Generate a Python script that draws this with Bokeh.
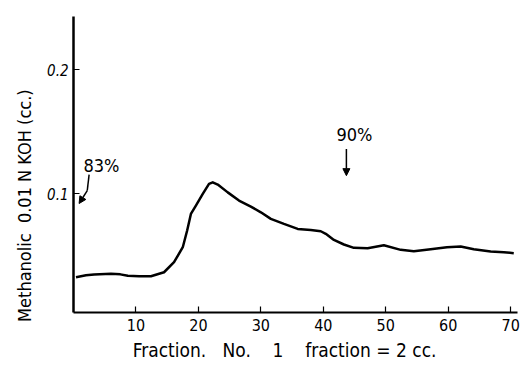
from bokeh.plotting import figure
from bokeh.models import Range1d, FixedTicker, Arrow, NormalHead, Label, ColumnDataSource
from bokeh.embed import file_html
from bokeh.resources import INLINE

fraction = [0.4, 2.0, 3.3, 6.0, 7.5, 8.7, 10.5, 12.4, 14.5, 16.1, 17.5, 18.2, 18.8, 19.6,
            20.7, 21.7, 22.3, 23.1, 24.7, 26.5, 28.4, 30.0, 31.6, 33.7, 35.9, 38.0, 39.6,
            40.4, 41.7, 43.3, 44.9, 47.1, 49.7, 52.4, 54.5, 57.2, 59.8, 62.0, 64.1, 66.8,
            68.9, 70.5]
koh = [0.0325, 0.0340, 0.0347, 0.0352, 0.0348, 0.0336, 0.0332, 0.0333, 0.0365, 0.0446,
       0.0567, 0.0702, 0.0836, 0.0903, 0.0998, 0.1078, 0.1091, 0.1073, 0.1010, 0.0944,
       0.0895, 0.0849, 0.0796, 0.0755, 0.0715, 0.0707, 0.0696, 0.0675, 0.0626, 0.0589,
       0.0562, 0.0559, 0.0583, 0.0546, 0.0535, 0.0551, 0.0567, 0.0573, 0.0551, 0.0532,
       0.0527, 0.0519]
x_ticks = [10, 20, 30, 40, 50, 60, 70]
y_ticks = [0.1, 0.2]
y_tick_labels = {0.1: "0.1", 0.2: "0.2"}

NB = "\u00a0"
x_title = ("Fraction." + NB * 3 + "No." + NB * 4 + "1" + NB * 4 + "fraction" + NB + "=" + NB
           + "2" + NB + "cc.")
y_title = "Methanolic" + NB * 2 + "0.01" + NB + "N" + NB + "KOH" + NB + "(cc.)"
x_title_pad = NB * 4
y_title_pad = NB * 16

ann83_text = "83%"
ann83_pos = (1.6, 0.1145)
ann83_stem_x = [2.5, 2.2]
ann83_stem_y = [0.1153, 0.1024]
ann83_tip = (0.9, 0.092)

ann90_text = "90%"
ann90_pos = (45.0, 0.1476)
ann90_arrow_x = 43.7
ann90_arrow_y = (0.136, 0.1145)

FONT = "'DejaVu Sans Condensed', 'Liberation Sans Narrow', 'DejaVu Sans', sans-serif"

p = figure(width=520, height=365, output_backend="svg", toolbar_location=None,
           x_range=Range1d(0, 71.1), y_range=Range1d(0.004, 0.243),
           min_border_left=73, min_border_right=3, min_border_top=16, min_border_bottom=53)
p.background_fill_color = "white"
p.border_fill_color = "white"
p.outline_line_color = None
p.xgrid.visible = False
p.ygrid.visible = False

src = ColumnDataSource(dict(x=fraction, y=koh))
p.line("x", "y", source=src, line_color="black", line_width=2.5, line_join="round")

# 83% annotation
p.line(ann83_stem_x, ann83_stem_y, line_color="black", line_width=1.5)
p.add_layout(Arrow(end=NormalHead(size=7, fill_color="black", line_color="black"),
                   x_start=ann83_stem_x[1], y_start=ann83_stem_y[1],
                   x_end=ann83_tip[0], y_end=ann83_tip[1],
                   line_color="black", line_width=1.5))
p.add_layout(Label(x=ann83_pos[0], y=ann83_pos[1], text=ann83_text, text_font=FONT,
                   text_font_size="18px", text_color="black", text_baseline="bottom"))

# 90% annotation
p.add_layout(Arrow(end=NormalHead(size=7, fill_color="black", line_color="black"),
                   x_start=ann90_arrow_x, y_start=ann90_arrow_y[0],
                   x_end=ann90_arrow_x, y_end=ann90_arrow_y[1],
                   line_color="black", line_width=1.5))
p.add_layout(Label(x=ann90_pos[0], y=ann90_pos[1], text=ann90_text, text_font=FONT,
                   text_font_size="18px", text_color="black", text_align="center",
                   text_baseline="middle"))

xa = p.xaxis[0]
xa.ticker = FixedTicker(ticks=x_ticks)
xa.axis_line_width = 2
xa.axis_line_color = "black"
xa.major_tick_in = 6
xa.major_tick_out = 0
xa.major_tick_line_width = 1.2
xa.minor_tick_line_color = None
xa.major_label_text_font = FONT
xa.major_label_text_font_size = "16px"
xa.major_label_text_color = "black"
xa.major_label_standoff = 6
xa.axis_label = x_title + x_title_pad
xa.axis_label_text_font = FONT
xa.axis_label_text_font_size = "19px"
xa.axis_label_text_font_style = "normal"
xa.axis_label_text_color = "black"
xa.axis_label_standoff = 5

ya = p.yaxis[0]
ya.ticker = FixedTicker(ticks=y_ticks)
ya.major_label_overrides = y_tick_labels
ya.axis_line_width = 2.5
ya.axis_line_color = "black"
ya.major_tick_in = 6
ya.major_tick_out = 0
ya.major_tick_line_width = 1.2
ya.minor_tick_line_color = None
ya.major_label_text_font = FONT
ya.major_label_text_font_size = "15px"
ya.major_label_text_font_style = "italic"
ya.major_label_text_color = "black"
ya.major_label_standoff = 5
ya.axis_label = y_title + y_title_pad
ya.axis_label_text_font = FONT
ya.axis_label_text_font_size = "18px"
ya.axis_label_text_font_style = "normal"
ya.axis_label_text_color = "black"
ya.axis_label_standoff = 9

open("out.html", "w").write(file_html(p, INLINE))
